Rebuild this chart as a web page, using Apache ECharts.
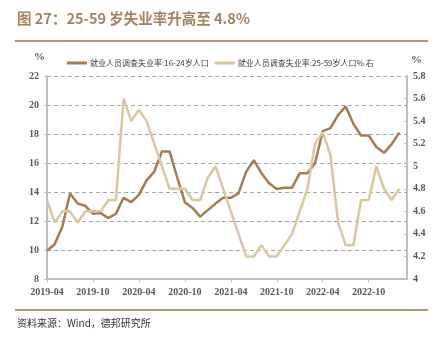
<!DOCTYPE html>
<html><head><meta charset="utf-8">
<script src="https://cdn.jsdelivr.net/npm/echarts@6/dist/echarts.min.js"></script>
<style>html,body{margin:0;padding:0;background:#fff}#c{width:439px;height:337px}</style>
</head><body><div id="c"></div>
<script>
// months 2019-04 .. 2023-03 (axis), data through 2023-02
const categories = [];
(function(){let y=2019,m=4;for(let i=0;i<48;i++){categories.push(y+'-'+(m<10?'0'+m:m));m++;if(m>12){m=1;y++;}}})();
const youth = [9.95,10.4,11.6,13.9,13.2,13.05,12.5,12.55,12.2,12.5,13.6,13.3,
  13.8,14.8,15.4,16.8,16.8,15.0,13.3,12.9,12.3,12.75,13.2,13.6,
  13.6,13.9,15.4,16.2,15.3,14.6,14.2,14.3,14.3,15.3,15.3,16.0,
  18.2,18.4,19.3,19.9,18.7,17.9,17.9,17.1,16.7,17.3,18.1];
const adult = [4.7,4.5,4.6,4.6,4.5,4.6,4.6,4.6,4.7,4.7,5.6,5.4,
  5.5,5.4,5.2,5.0,4.8,4.8,4.8,4.7,4.7,4.9,5.0,4.8,
  4.6,4.4,4.2,4.2,4.3,4.2,4.2,4.3,4.4,4.6,4.8,5.2,
  5.3,5.1,4.5,4.3,4.3,4.7,4.7,5.0,4.8,4.7,4.8];
const seriesNames = ['就业人员调查失业率:16-24岁人口','就业人员调查失业率:25-59岁人口% 右'];
const titleText = '图 27：25-59 岁失业率升高至 4.8%';
const sourceText = '资料来源：Wind，德邦研究所';

const chart = echarts.init(document.getElementById('c'));
const axisFont = {fontFamily:'Liberation Serif', fontWeight:'bold', fontSize:10, color:'#595959'};
chart.setOption({
  animation:false,
  grid:{left:47,right:32,top:76,bottom:58,containLabel:false},
  legend:{left:62,top:54,itemWidth:20,itemHeight:3,itemGap:6,icon:'rect',
    textStyle:{fontFamily:'Noto Sans CJK SC',fontSize:8,color:'#404040',padding:[0,0,0,-2]},
    data:seriesNames},
  graphic:[
    {type:'text',left:17,top:11,style:{text:titleText,fontFamily:'Noto Sans CJK SC',fontWeight:'bold',fontSize:14.5,fill:'#a5825e'}},
    {type:'rect',shape:{x:15,y:40,width:413,height:2},style:{fill:'#b39474'}},
    {type:'rect',shape:{x:15,y:309,width:413,height:2},style:{fill:'#b39474'}},
    {type:'text',left:17,top:318,style:{text:sourceText,fontFamily:'Noto Sans CJK SC',fontSize:10,fill:'#333'}},
    {type:'text',left:34,top:52,style:{text:'%',fontFamily:'Liberation Serif',fontWeight:'bold',fontSize:11,fill:'#595959'}},
    {type:'text',left:411,top:55,style:{text:'%',fontFamily:'Liberation Serif',fontWeight:'bold',fontSize:11,fill:'#595959'}}
  ],
  xAxis:{type:'category',data:categories,boundaryGap:false,
    axisLine:{lineStyle:{color:'#bfbfbf',width:2}},
    axisTick:{show:true,interval:5,length:3,lineStyle:{color:'#bfbfbf'}},
    axisLabel:{interval:5,margin:8,...axisFont},
    splitLine:{show:false}},
  yAxis:[
    {type:'value',min:8,max:22,interval:2,position:'left',
      axisLine:{show:true,lineStyle:{color:'#bfbfbf',width:2}},
      axisTick:{show:true,length:3,lineStyle:{color:'#bfbfbf'}},
      axisLabel:{margin:8,...axisFont},
      splitLine:{show:true,lineStyle:{color:'#a6a6a6',type:[4,3],width:1.2}}},
    {type:'value',min:4,max:5.8,interval:0.2,position:'right',
      axisLine:{show:true,lineStyle:{color:'#bfbfbf',width:2}},
      axisTick:{show:true,inside:true,length:3,lineStyle:{color:'#bfbfbf'}},
      axisLabel:{margin:6,...axisFont,formatter:v=>String(+v.toFixed(1))},
      splitLine:{show:false}}
  ],
  series:[
    {name:seriesNames[0],type:'line',yAxisIndex:0,data:youth,symbol:'none',
      lineStyle:{color:'#a57c52',width:2.5},itemStyle:{color:'#a57c52'}},
    {name:seriesNames[1],type:'line',yAxisIndex:1,data:adult,symbol:'none',
      lineStyle:{color:'#dac69f',width:2.5},itemStyle:{color:'#dac69f'}}
  ]
});
</script></body></html>
